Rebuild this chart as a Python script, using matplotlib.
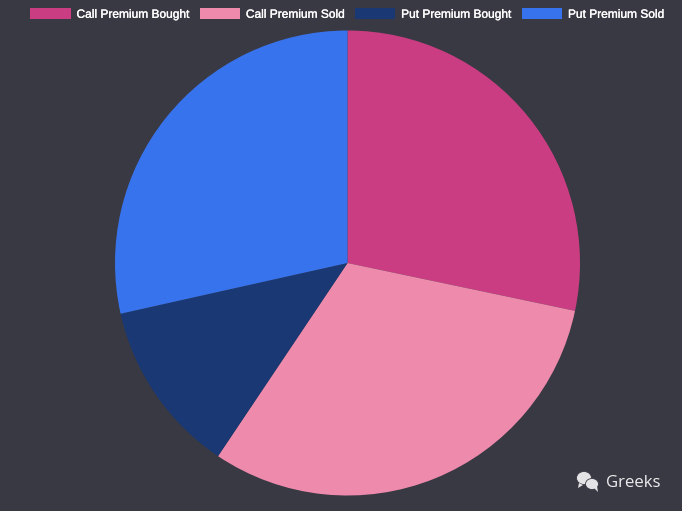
import matplotlib
matplotlib.use('Agg')
import matplotlib.pyplot as plt
import matplotlib.patheffects as pe
from matplotlib.patches import Ellipse, Patch, Polygon

labels = ['Call Premium Bought', 'Call Premium Sold', 'Put Premium Bought', 'Put Premium Sold']
premiums = [28.3, 31.1, 12.1, 28.5]
colors = ['#CB3D82', '#EE8BAD', '#193874', '#3873EE']
bg = '#393943'
W, H = 682, 511

plt.rcParams['font.family'] = ['Liberation Sans', 'DejaVu Sans']

fig = plt.figure(figsize=(W / 100, H / 100), dpi=100, facecolor=bg)

# pie centre is about (347.5, 263) px, radius 232.5
ax = fig.add_axes([115 / W, 1 - 495.5 / H, 465 / W, 465 / H])
ax.pie(premiums, colors=colors, startangle=90, counterclock=False, radius=1,
       wedgeprops={'linewidth': 0})
ax.set_xlim(-1, 1)
ax.set_ylim(-1, 1)
ax.set_aspect('equal')

# legend
handles = [Patch(facecolor=c, edgecolor='none') for c in colors]
leg = fig.legend(handles, labels, ncol=4, loc='upper left',
                 bbox_to_anchor=(23 / W, 1 - 1 / H), frameon=False,
                 prop={'size': 8.6}, labelcolor='white',
                 handlelength=3.38, handleheight=1.05, handletextpad=0.5,
                 columnspacing=0.87, borderpad=0.6, borderaxespad=0)
for t in leg.get_texts():
    # browser text looks a bit heavier than regular
    t.set_path_effects([pe.withStroke(linewidth=0.25, foreground='white')])

# watermark
def px(x, y):
    return x / W, 1 - y / H

icon = '#E4E4E6'
for cx, cy, w, h in [(584, 478, 15, 13), (592, 484, 13, 11)]:
    x, y = px(cx, cy)
    fig.add_artist(Ellipse((x, y), w / W, h / H, facecolor=icon, edgecolor=bg,
                           linewidth=0.6, transform=fig.transFigure))
fig.add_artist(Polygon([px(579, 483), px(578, 488), px(583, 485)], closed=True,
                       facecolor=icon, edgecolor='none', transform=fig.transFigure))
fig.add_artist(Polygon([px(594, 488), px(598, 492), px(597, 486)], closed=True,
                       facecolor=icon, edgecolor='none', transform=fig.transFigure))
fig.text(606 / W, 1 - 483 / H, 'Greeks', color='#EDEDEF', fontsize=12.1,
         family=['Open Sans', 'DejaVu Sans'], va='center', ha='left')

fig.savefig('out.png', dpi=100, facecolor=bg)
